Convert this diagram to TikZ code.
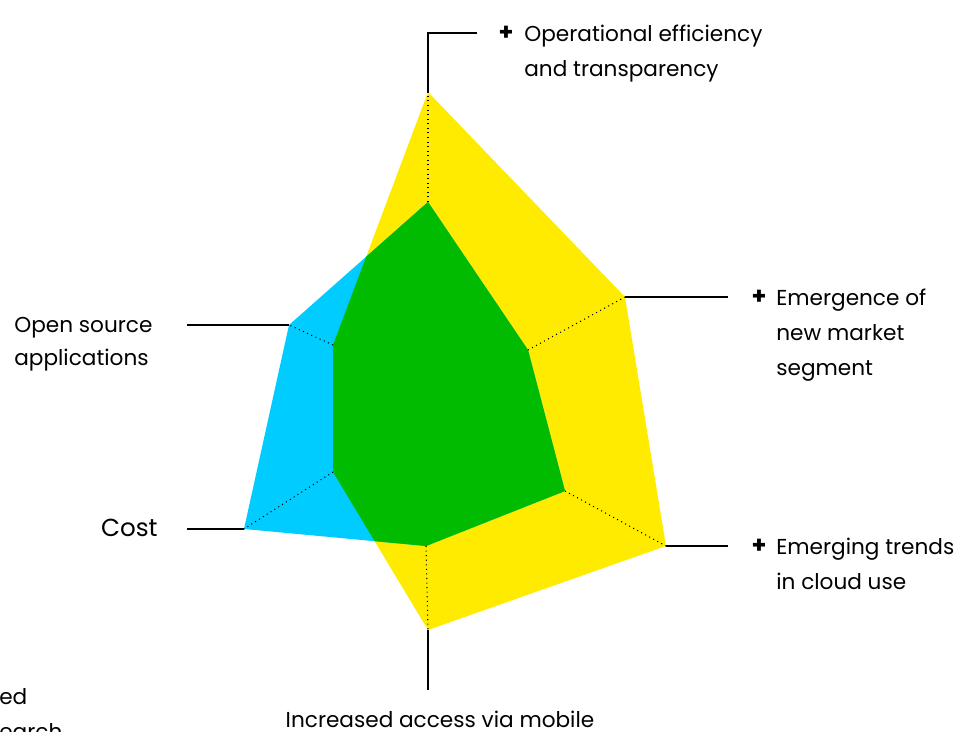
\documentclass[tikz,border=0pt]{standalone}
\usepackage{fontspec}
\setmainfont{Poppins}
\definecolor{radaryellow}{RGB}{255,235,0}
\definecolor{radarblue}{RGB}{0,204,255}
\definecolor{radargreen}{RGB}{0,187,0}
\tikzset{
  axisline/.style={line width=1.4pt},
  spoke/.style={dotted, line width=0.6pt},
  lbl/.style={inner sep=0pt, align=left, font=\fontsize{12.3}{19.9}\selectfont},
  plussign/.style={inner sep=0pt, font=\fontsize{13.5}{19.9}\selectfont\bfseries}
}
\begin{document}
\begin{tikzpicture}[x=0.02cm,y=-0.02cm]
\useasboundingbox (0,0) rectangle (971,732);
\coordinate (o1) at (428,92);
\coordinate (o2) at (625,297);
\coordinate (o3) at (666,546);
\coordinate (o4) at (428,630);
\coordinate (o5) at (244,529);
\coordinate (o6) at (289,325);
\coordinate (b1) at (428,202);
\coordinate (b2) at (528,350);
\coordinate (b3) at (565,491);
\coordinate (b4) at (426,546);
\coordinate (y5) at (333,472);
\coordinate (y6) at (333,345);
\coordinate (e1) at (477,33);
\coordinate (e2) at (728,297);
\coordinate (e3) at (728,546);
\coordinate (e4) at (428,690);
\coordinate (e5) at (187,529);
\coordinate (e6) at (187,325);
\fill[radaryellow] (o1)--(o2)--(o3)--(o4)--(y5)--(y6)--cycle;
\fill[radarblue] (b1)--(b2)--(b3)--(b4)--(o5)--(o6)--cycle;
\begin{scope}
\clip (o1)--(o2)--(o3)--(o4)--(y5)--(y6)--cycle;
\fill[radargreen] (b1)--(b2)--(b3)--(b4)--(o5)--(o6)--cycle;
\end{scope}
\draw[spoke] (b1)--(o1);
\draw[spoke] (b2)--(o2);
\draw[spoke] (b3)--(o3);
\draw[spoke] (b4)--(o4);
\draw[spoke] (y5)--(o5);
\draw[spoke] (y6)--(o6);
\draw[axisline] (o1) |- (e1);
\draw[axisline] (o2) -- (e2);
\draw[axisline] (o3) -- (e3);
\draw[axisline] (o4) -- (e4);
\draw[axisline] (o5) -- (e5);
\draw[axisline] (o6) -- (e6);
\node[plussign] at (506,33) (p1) {+};
\node[plussign] at (759,297) (p2) {+};
\node[plussign] at (759,546) (p3) {+};
\node[lbl, anchor=north west] at (524,25) (t1) {Operational efficiency\\and transparency};
\node[lbl, anchor=north west] at (776,289) (t2) {Emergence of\\new market\\segment};
\node[lbl, anchor=north west] at (776,538) (t3) {Emerging trends\\in cloud use};
\node[lbl, anchor=north west, font=\fontsize{12.3}{18.8}\selectfont] at (14,317) (t4) {Open source\\applications};
\node[lbl, anchor=base east, font=\fontsize{14}{20}\selectfont] at (158,537) (t5) {Cost};
\node[lbl, anchor=base] at (440,728) (t6) {Increased access via mobile};
\node[lbl, anchor=base west] at (-1,705) (t7) {ed};
\node[lbl, anchor=base west] at (-1,740) (t8) {earch};
\end{tikzpicture}
\end{document}
